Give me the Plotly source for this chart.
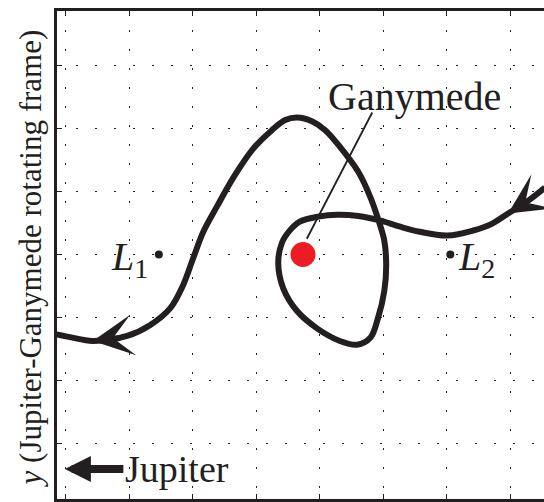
import plotly.graph_objects as go

# Trajectory in the Jupiter-Ganymede rotating frame (grid spacing = 1 unit)
traj_x = [4.55, 4.31, 3.97, 3.72, 3.42, 3.01, 2.58, 2.27, 1.95, 1.61, 1.28, 0.98, 0.69, 0.54,
          0.41, 0.35, 0.43, 0.65, 0.96, 1.32, 1.59, 1.80, 1.92, 2.02, 2.05, 2.02, 1.92, 1.80,
          1.61, 1.31, 1.09, 0.88, 0.65, 0.46, 0.25, -0.05, -0.35, -0.61, -0.83, -0.99, -1.15,
          -1.35, -1.67, -2.03, -2.57, -2.93, -3.17]
traj_y = [1.06, 0.87, 0.65, 0.49, 0.38, 0.30, 0.36, 0.44, 0.54, 0.61, 0.63, 0.60, 0.52, 0.39,
          0.19, -0.14, -0.54, -0.90, -1.17, -1.37, -1.43, -1.32, -1.01, -0.58, -0.17, 0.22, 0.57,
          0.91, 1.31, 1.72, 1.97, 2.11, 2.17, 2.13, 1.97, 1.67, 1.23, 0.77, 0.36, -0.06, -0.49,
          -0.85, -1.12, -1.29, -1.37, -1.31, -1.26]
arrow_tips = [2, 44]  # indices of points where direction arrows sit

ganymede_xy = (0.74, 0.0)
l1_xy = (-1.53, 0.0)
l2_xy = (3.06, 0.0)
jupiter_arrow_tip = (-3.01, -3.40)
ganymede_label_xy = (2.50, 2.50)
pointer_start = (0.80, 0.25)
pointer_end = (1.83, 2.25)

grid_x = list(range(-3, 5))
grid_y = list(range(-3, 4))

FONT = "Liberation Serif, Times New Roman, serif"
INK = "#231f20"

fig = go.Figure()

fig.add_trace(go.Scatter(
    x=traj_x, y=traj_y, mode="lines",
    line=dict(color=INK, width=6, shape="spline", smoothing=1.0),
    hoverinfo="skip", showlegend=False))

fig.add_trace(go.Scatter(
    x=[l1_xy[0], l2_xy[0]], y=[l1_xy[1], l2_xy[1]], mode="markers",
    marker=dict(color=INK, size=8), showlegend=False, hoverinfo="skip"))

fig.add_trace(go.Scatter(
    x=[ganymede_xy[0]], y=[ganymede_xy[1]], mode="markers",
    marker=dict(color="#ed1c24", size=25, line=dict(width=0)),
    showlegend=False, hoverinfo="skip"))

# Pointer line from label to Ganymede
fig.add_shape(type="line", x0=pointer_start[0], y0=pointer_start[1],
              x1=pointer_end[0], y1=pointer_end[1], xref="x", yref="y",
              line=dict(color=INK, width=1.8))

# Direction arrows along the trajectory
for i in arrow_tips:
    fig.add_annotation(
        x=traj_x[i], y=traj_y[i], ax=traj_x[i - 1], ay=traj_y[i - 1],
        xref="x", yref="y", axref="x", ayref="y", text="",
        showarrow=True, arrowhead=3, arrowsize=1.7, arrowwidth=4, arrowcolor=INK)

fig.add_annotation(x=ganymede_label_xy[0], y=ganymede_label_xy[1], text="Ganymede",
                   showarrow=False, font=dict(family=FONT, size=40, color=INK))

fig.add_annotation(x=l1_xy[0], y=l1_xy[1], text="<i>L</i><sub>1</sub>", showarrow=False,
                   xanchor="right", yanchor="middle", xshift=-9, yshift=-4,
                   font=dict(family=FONT, size=40, color=INK))
fig.add_annotation(x=l2_xy[0], y=l2_xy[1], text="<i>L</i><sub>2</sub>", showarrow=False,
                   xanchor="left", yanchor="middle", xshift=6, yshift=-4,
                   font=dict(family=FONT, size=40, color=INK))

fig.add_annotation(x=jupiter_arrow_tip[0], y=jupiter_arrow_tip[1], text="Jupiter",
                   showarrow=True, ax=112, ay=0, arrowhead=2, arrowsize=0.65,
                   arrowwidth=8, arrowcolor=INK,
                   font=dict(family=FONT, size=38, color=INK))

fig.add_annotation(x=-0.0554, y=0.493, xref="paper", yref="paper",
                   text="<i>y</i> (Jupiter-Ganymede rotating frame)", textangle=-90,
                   showarrow=False, xanchor="center", yanchor="middle",
                   font=dict(family=FONT, size=31, color=INK))

axis_common = dict(
    showgrid=True, gridcolor="#222", gridwidth=1.3, griddash="1.5px,17.5px",
    zeroline=False, showticklabels=False, ticks="inside", ticklen=5, tickwidth=1.3,
    tickcolor=INK, showline=True, linecolor=INK,
)

fig.update_layout(
    width=544, height=502,
    margin=dict(l=57, r=0, t=11, b=0),
    paper_bgcolor="white", plot_bgcolor="white",
    xaxis=dict(range=[-3.134, 4.535], tickvals=grid_x, side="top", linewidth=3,
               mirror="ticks", **axis_common),
    yaxis=dict(range=[-3.874, 3.858], tickvals=grid_y, linewidth=2.5, **axis_common),
    showlegend=False,
)

fig.write_html("out.html", config={"displayModeBar": False},
               post_script="document.body.style.margin='0';document.body.style.overflow='hidden';")
